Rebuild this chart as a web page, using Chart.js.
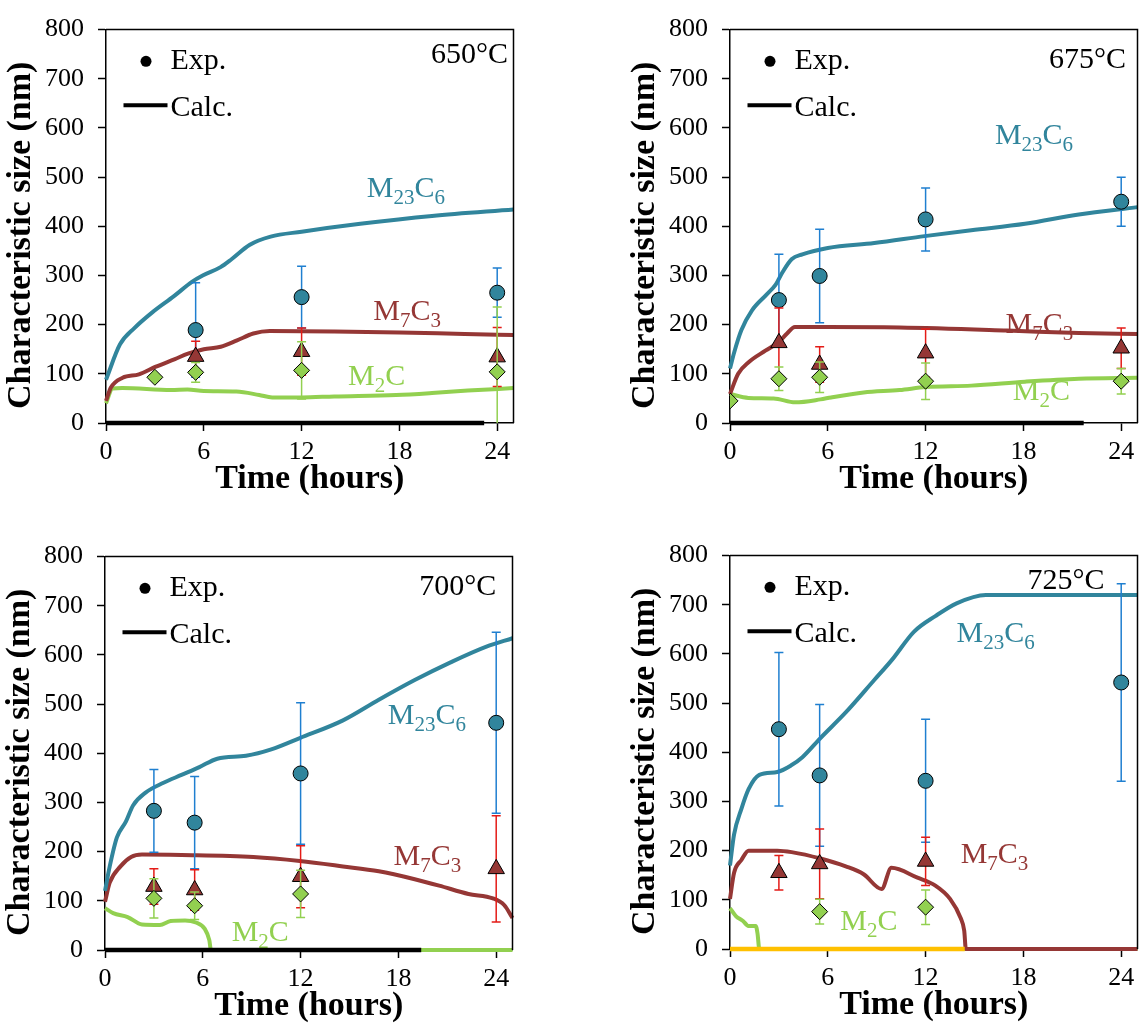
<!DOCTYPE html>
<html>
<head>
<meta charset="utf-8">
<script src="https://cdn.jsdelivr.net/npm/chart.js@4.4.1/dist/chart.umd.min.js"></script>
<style>
    html, body { margin: 0; padding: 0; background: #fff; overflow: hidden; }
    #wrap { position: relative; width: 1148px; height: 1023px; }
    #wrap canvas { position: absolute; }
</style>
</head>
<body>
<div id="wrap">
    <canvas id="c650" width="524" height="500" style="left:0;top:0"></canvas>
    <canvas id="c675" width="524" height="500" style="left:624px;top:0"></canvas>
    <canvas id="c700" width="524" height="500" style="left:-1px;top:527px"></canvas>
    <canvas id="c725" width="524" height="500" style="left:624px;top:526px"></canvas>
</div>
<script>
const timeTicks = [0, 6, 12, 18, 24];
const sizeTicks = [0, 100, 200, 300, 400, 500, 600, 700, 800];

// 650 °C, calculated
const calc650_M23C6_t = [0, 0.86, 1.74, 2.84, 4.17, 5.27, 5.93, 7.03, 7.7, 8.8, 10.1, 12, 15.6, 20, 25];
const calc650_M23C6_nm = [88, 160, 193, 225, 258, 287, 300, 317, 333, 362, 379, 389, 405, 421, 434];
const calc650_M7C3_t = [0, 0.3, 1.02, 2.02, 3.02, 4.23, 5.03, 6.0, 7.04, 8.04, 9.04, 10.05, 14, 18, 22, 25];
const calc650_M7C3_nm = [45, 72, 92, 99, 114, 130, 141, 150, 155, 168, 182, 187, 186, 184, 181, 179];
const calc650_M2C_t = [0, 0.4, 1.0, 4.0, 5.0, 6.0, 8.0, 9.4, 10.2, 12, 14, 17.8, 20, 22.2, 25];
const calc650_M2C_nm = [40, 70, 71, 67, 68, 65, 64, 57, 52, 52, 54, 57, 61, 66, 71];
const calc650_zero_t = [0, 23.2];
const calc650_zero_nm = [0, 0];
// 650 °C, measured
const exp650_M23C6_t = [5.5, 12, 24];
const exp650_M23C6_nm = [189, 256, 265];
const exp650_M23C6_err = [96, 63, 50];
const exp650_M7C3_t = [5.5, 12, 24];
const exp650_M7C3_nm = [135, 145, 134];
const exp650_M7C3_err = [31, 48, 60];
const exp650_M2C_t = [3, 5.5, 12, 24];
const exp650_M2C_nm = [93, 103, 107, 104];
const exp650_M2C_err = [0, 20, 58, 132];

// 675 °C, calculated
const calc675_M23C6_t = [0, 0.26, 0.7, 1.35, 2.24, 2.79, 3.23, 3.78, 4.44, 6.0, 8.85, 11.94, 14.8, 18.1, 21.4, 25];
const calc675_M23C6_nm = [111, 144, 189, 229, 261, 281, 307, 333, 343, 356, 366, 380, 392, 405, 424, 439];
const calc675_M7C3_t = [0, 0.5, 1.16, 2.17, 3.0, 3.5, 3.98, 6, 10.4, 17, 21.4, 25];
const calc675_M7C3_nm = [59, 100, 124, 147, 165, 182, 195, 195, 194, 188, 183, 181];
const calc675_M2C_t = [0, 1.13, 2.68, 4.0, 5.55, 6.2, 8.2, 10.4, 12.0, 14.8, 18.1, 21.4, 25];
const calc675_M2C_nm = [59, 51, 50, 42, 48, 52, 62, 67, 73, 76, 84, 90, 92];
const calc675_zero_t = [0, 21.7];
const calc675_zero_nm = [0, 0];
// 675 °C, measured
const exp675_M23C6_t = [3, 5.5, 12, 24];
const exp675_M23C6_nm = [250, 299, 414, 450];
const exp675_M23C6_err = [93, 95, 64, 50];
const exp675_M7C3_t = [3, 5.5, 12, 24];
const exp675_M7C3_nm = [163, 119, 142, 152];
const exp675_M7C3_err = [71, 36, 49, 41];
const exp675_M2C_t = [0, 3, 5.5, 12, 24];
const exp675_M2C_nm = [45, 90, 93, 85, 85];
const exp675_M2C_err = [0, 24, 31, 37, 26];

// 700 °C, calculated
const calc700_M23C6_t = [0, 0.29, 0.73, 1.28, 1.72, 2.49, 3.59, 4.69, 5.79, 6.89, 8.65, 10.2, 11.95, 14.6, 16.8, 19.0, 21.2, 23.4, 25];
const calc700_M23C6_nm = [120, 170, 229, 261, 294, 320, 340, 356, 372, 389, 395, 408, 431, 467, 509, 549, 585, 617, 634];
const calc700_M7C3_t = [0, 0.29, 0.95, 1.6, 2.27, 4.7, 9.1, 11.95, 14.6, 16.8, 19.0, 20.5, 22.3, 23.8, 24.5, 25];
const calc700_M7C3_nm = [98, 137, 170, 189, 194, 193, 189, 181, 170, 160, 144, 131, 114, 105, 91, 65];
const calc700_M2C_t = [0, 0.5, 1.39, 2.27, 3.37, 4.03, 4.91, 5.57, 6.12, 6.4, 6.5, 25];
const calc700_M2C_nm = [85, 75, 67, 52, 51, 59, 60, 56, 43, 20, 0, 0];
const calc700_zero_t = [0, 19.4];
const calc700_zero_nm = [0, 0];
// 700 °C, measured
const exp700_M23C6_t = [3, 5.5, 12, 24];
const exp700_M23C6_nm = [283, 259, 359, 462];
const exp700_M23C6_err = [84, 94, 144, 184];
const exp700_M7C3_t = [3, 5.5, 12, 24];
const exp700_M7C3_nm = [129, 122, 149, 165];
const exp700_M7C3_err = [36, 41, 63, 108];
const exp700_M2C_t = [3, 5.5, 12];
const exp700_M2C_nm = [105, 90, 114];
const exp700_M2C_err = [40, 28, 48];

// 725 °C, calculated
const calc725_M23C6_t = [0, 0.25, 0.7, 1.14, 1.8, 2.9, 3.78, 4.44, 5.55, 7.1, 8.85, 9.96, 11.28, 12.6, 13.9, 15.7, 25];
const calc725_M23C6_nm = [170, 233, 285, 325, 354, 360, 374, 390, 429, 481, 547, 589, 645, 677, 703, 720, 720];
const calc725_M7C3_t = [0, 0.25, 0.7, 1.14, 2.9, 3.78, 5.55, 7.1, 8.2, 9.3, 9.9, 11.5, 12.6, 13.5, 14.15, 14.37, 14.47, 25];
const calc725_M7C3_nm = [102, 155, 181, 200, 200, 197, 184, 168, 152, 122, 165, 145, 129, 102, 63, 37, 0, 0];
const calc725_M2C_t = [0, 0.36, 0.8, 1.13, 1.58, 1.69, 1.8, 25];
const calc725_M2C_nm = [83, 67, 57, 47, 47, 31, 0, 0];
const calc725_zero_t = [0, 14.4];
const calc725_zero_nm = [0, 0];
// 725 °C, measured
const exp725_M23C6_t = [3, 5.5, 12, 24];
const exp725_M23C6_nm = [447, 353, 342, 542];
const exp725_M23C6_err = [156, 144, 125, 201];
const exp725_M7C3_t = [3, 5.5, 12];
const exp725_M7C3_nm = [155, 173, 178];
const exp725_M7C3_err = [35, 71, 49];
const exp725_M2C_t = [5.5, 12];
const exp725_M2C_nm = [76, 85];
const exp725_M2C_err = [25, 35];

const serif = "'Liberation Serif', 'Times New Roman', serif";

const phaseColors = { M23C6: '#31859c', M7C3: '#953735', M2C: '#92d050' };
const errorColors = { M23C6: '#1f7fd0', M7C3: '#e41b17', M2C: '#92d050' };
const phaseMarkers = { M23C6: ['circle', 7.5], M7C3: ['triangle', 9.5], M2C: ['rectRot', 8] };
const phaseFormula = {
    M23C6: [['M', 0], ['23', 1], ['C', 0], ['6', 1]],
    M7C3: [['M', 0], ['7', 1], ['C', 0], ['3', 1]],
    M2C: [['M', 0], ['2', 1], ['C', 0]],
};

const panels = [
    {
        canvas: 'c650', temp: '650°C', tempAt: [24.67, 733],
        labelAt: { M23C6: [16.0, 460], M7C3: [16.4, 209], M2C: [14.85, 78] },
        calc: {
            M23C6: [calc650_M23C6_t, calc650_M23C6_nm],
            M7C3: [calc650_M7C3_t, calc650_M7C3_nm],
            M2C: [calc650_M2C_t, calc650_M2C_nm],
        },
        zero: [[calc650_zero_t, calc650_zero_nm, '#000000']],
        exp: {
            M23C6: [exp650_M23C6_t, exp650_M23C6_nm, exp650_M23C6_err],
            M7C3: [exp650_M7C3_t, exp650_M7C3_nm, exp650_M7C3_err],
            M2C: [exp650_M2C_t, exp650_M2C_nm, exp650_M2C_err],
        },
    },
    {
        canvas: 'c675', temp: '675°C', tempAt: [24.3, 722],
        labelAt: { M23C6: [16.25, 568], M7C3: [16.9, 183], M2C: [17.35, 46] },
        calc: {
            M23C6: [calc675_M23C6_t, calc675_M23C6_nm],
            M7C3: [calc675_M7C3_t, calc675_M7C3_nm],
            M2C: [calc675_M2C_t, calc675_M2C_nm],
        },
        zero: [[calc675_zero_t, calc675_zero_nm, '#000000']],
        exp: {
            M23C6: [exp675_M23C6_t, exp675_M23C6_nm, exp675_M23C6_err],
            M7C3: [exp675_M7C3_t, exp675_M7C3_nm, exp675_M7C3_err],
            M2C: [exp675_M2C_t, exp675_M2C_nm, exp675_M2C_err],
        },
    },
    {
        canvas: 'c700', temp: '700°C', tempAt: [24.0, 722],
        labelAt: { M23C6: [17.35, 460], M7C3: [17.7, 173], M2C: [7.77, 18] },
        calc: {
            M23C6: [calc700_M23C6_t, calc700_M23C6_nm],
            M7C3: [calc700_M7C3_t, calc700_M7C3_nm],
            M2C: [calc700_M2C_t, calc700_M2C_nm],
        },
        zero: [[calc700_zero_t, calc700_zero_nm, '#000000']],
        exp: {
            M23C6: [exp700_M23C6_t, exp700_M23C6_nm, exp700_M23C6_err],
            M7C3: [exp700_M7C3_t, exp700_M7C3_nm, exp700_M7C3_err],
            M2C: [exp700_M2C_t, exp700_M2C_nm, exp700_M2C_err],
        },
    },
    {
        canvas: 'c725', temp: '725°C', tempAt: [22.97, 733],
        labelAt: { M23C6: [13.9, 625], M7C3: [14.15, 174], M2C: [6.77, 39] },
        calc: {
            M23C6: [calc725_M23C6_t, calc725_M23C6_nm],
            M7C3: [calc725_M7C3_t, calc725_M7C3_nm],
            M2C: [calc725_M2C_t, calc725_M2C_nm],
        },
        zero: [[calc725_zero_t, calc725_zero_nm, '#ffc000']],
        exp: {
            M23C6: [exp725_M23C6_t, exp725_M23C6_nm, exp725_M23C6_err],
            M7C3: [exp725_M7C3_t, exp725_M7C3_nm, exp725_M7C3_err],
            M2C: [exp725_M2C_t, exp725_M2C_nm, exp725_M2C_err],
        },
    },
];

function points(ts, vs) {
    return ts.map((t, i) => ({ x: t, y: vs[i] }));
}

function buildDatasets(panel) {
    const sets = [];
    // measured points on top, M2C drawn last
    ['M2C', 'M7C3', 'M23C6'].forEach((ph, k) => {
        const e = panel.exp[ph];
        sets.push({
            label: ph + ' exp.',
            data: points(e[0], e[1]),
            errors: e[2],
            errorColor: errorColors[ph],
            showLine: false,
            pointStyle: phaseMarkers[ph][0],
            pointRadius: phaseMarkers[ph][1],
            pointBackgroundColor: phaseColors[ph],
            pointBorderColor: '#000',
            pointBorderWidth: 1,
            order: 1 + k,
        });
    });
    panel.zero.forEach(([ts, vs, color]) => {
        sets.push({
            label: 'zero',
            data: points(ts, vs),
            showLine: true,
            borderColor: color,
            borderWidth: 4.5,
            pointRadius: 0,
            clip: false,
            order: 5,
        });
    });
    ['M23C6', 'M7C3', 'M2C'].forEach((ph) => {
        const c = panel.calc[ph];
        sets.push({
            label: ph + ' calc.',
            data: points(c[0], c[1]),
            showLine: true,
            borderColor: phaseColors[ph],
            borderWidth: 4,
            borderJoinStyle: 'round',
            cubicInterpolationMode: 'monotone',
            pointRadius: 0,
            clip: false,
            order: 10,
        });
    });
    return sets;
}

const errorBarPlugin = {
    id: 'errorBars',
    beforeDatasetDraw(chart, args) {
        const ds = chart.data.datasets[args.index];
        if (!ds.errors) return;
        const { ctx, chartArea: a, scales: { x, y } } = chart;
        ctx.save();
        ctx.beginPath();
        ctx.rect(a.left, a.top, a.right - a.left, a.bottom - a.top);
        ctx.clip();
        ctx.strokeStyle = ds.errorColor;
        ctx.lineWidth = 1.5;
        ds.data.forEach((pt, i) => {
            const err = ds.errors[i];
            if (!err) return;
            const px = x.getPixelForValue(pt.x);
            const hi = y.getPixelForValue(pt.y + err);
            const low = pt.y - err;
            const lo = y.getPixelForValue(Math.max(low, 0));
            ctx.beginPath();
            ctx.moveTo(px, hi);
            ctx.lineTo(px, lo);
            ctx.moveTo(px - 4.5, hi);
            ctx.lineTo(px + 4.5, hi);
            if (low > 0) {
                ctx.moveTo(px - 4.5, lo);
                ctx.lineTo(px + 4.5, lo);
            }
            ctx.stroke();
        });
        ctx.restore();
    },
};

function drawFormula(ctx, parts, x, y, color) {
    ctx.fillStyle = color;
    parts.forEach(([text, sub]) => {
        ctx.font = sub ? `21px ${serif}` : `30px ${serif}`;
        ctx.fillText(text, x, sub ? y + 7 : y);
        x += ctx.measureText(text).width;
    });
}

function decorPlugin(panel) {
    return {
        id: 'decor',
        beforeDatasetsDraw(chart) {
            const { ctx, scales: { x, y } } = chart;
            ctx.save();
            ctx.textAlign = 'left';
            ctx.textBaseline = 'alphabetic';
            Object.entries(panel.labelAt).forEach(([ph, [t, nm]]) => {
                drawFormula(ctx, phaseFormula[ph], x.getPixelForValue(t), y.getPixelForValue(nm), phaseColors[ph]);
            });
            ctx.restore();
        },
        afterDraw(chart) {
            const { ctx, chartArea: a, scales: { x, y } } = chart;
            ctx.save();
            ctx.strokeStyle = '#000';
            ctx.fillStyle = '#000';
            ctx.lineWidth = 1.5;
            ctx.beginPath();
            ctx.moveTo(a.left, a.top);
            ctx.lineTo(a.right, a.top);
            ctx.lineTo(a.right, a.bottom);
            ctx.stroke();

            // legend
            ctx.beginPath();
            ctx.arc(a.left + 40, a.top + 31.7, 5.5, 0, Math.PI * 2);
            ctx.fill();
            ctx.lineWidth = 4;
            ctx.beginPath();
            ctx.moveTo(a.left + 17.5, a.top + 75.7);
            ctx.lineTo(a.left + 61.5, a.top + 75.7);
            ctx.stroke();
            ctx.font = `30px ${serif}`;
            ctx.textAlign = 'left';
            ctx.textBaseline = 'alphabetic';
            ctx.fillText('Exp.', a.left + 64.5, a.top + 39);
            ctx.fillText('Calc.', a.left + 64.5, a.top + 86);

            ctx.textAlign = 'right';
            ctx.fillText(panel.temp, x.getPixelForValue(panel.tempAt[0]), y.getPixelForValue(panel.tempAt[1]));

            // y axis title
            ctx.font = `bold 34px ${serif}`;
            ctx.textAlign = 'center';
            ctx.textBaseline = 'middle';
            ctx.translate(21, (a.top + a.bottom) / 2 + 9);
            ctx.rotate(-Math.PI / 2);
            ctx.fillText('Characteristic size (nm)', 0, 0);
            ctx.restore();
        },
    };
}

function buildPanel(panel) {
    return new Chart(document.getElementById(panel.canvas), {
        type: 'scatter',
        data: { datasets: buildDatasets(panel) },
        plugins: [errorBarPlugin, decorPlugin(panel)],
        options: {
            responsive: false,
            animation: false,
            devicePixelRatio: 1,
            layout: { padding: { top: 15, right: 2, left: 0, bottom: 0 } },
            scales: {
                x: {
                    type: 'linear',
                    min: 0,
                    max: 25,
                    afterBuildTicks(axis) {
                        axis.ticks = timeTicks.map((v) => ({ value: v }));
                    },
                    afterFit(axis) {
                        axis.height = 77;
                    },
                    grid: { drawOnChartArea: false, tickLength: 8, tickWidth: 1.5, tickColor: '#000' },
                    border: { color: '#000', width: 1.5 },
                    ticks: { color: '#000', font: { family: serif, size: 26 }, padding: 6, maxRotation: 0 },
                    title: {
                        display: true,
                        text: 'Time (hours)',
                        color: '#000',
                        font: { family: serif, size: 34, weight: 'bold' },
                        padding: { top: 0, bottom: 0 },
                    },
                },
                y: {
                    type: 'linear',
                    min: 0,
                    max: 800,
                    afterBuildTicks(axis) {
                        axis.ticks = sizeTicks.map((v) => ({ value: v }));
                    },
                    afterFit(axis) {
                        axis.width = 106;
                    },
                    grid: { drawOnChartArea: false, tickLength: 8, tickWidth: 1.5, tickColor: '#000' },
                    border: { color: '#000', width: 1.5 },
                    ticks: { color: '#000', font: { family: serif, size: 26 }, padding: 14 },
                },
            },
            plugins: {
                legend: { display: false },
                tooltip: { enabled: false },
            },
        },
    });
}

panels.forEach(buildPanel);
</script>
</body>
</html>
